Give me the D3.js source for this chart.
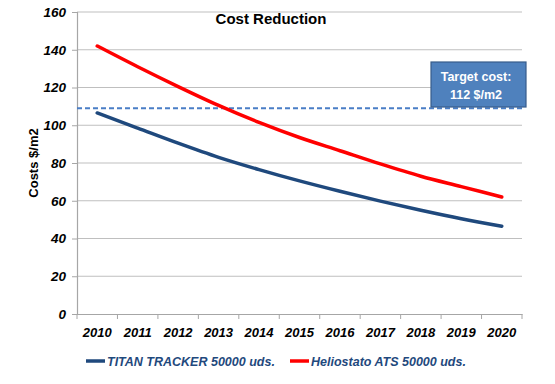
<!DOCTYPE html>
<html>
<head>
<meta charset="utf-8">
<script src="https://cdn.jsdelivr.net/npm/d3@7"></script>
<style>
  body { margin: 0; background: white; }
  text { font-family: "Liberation Sans", Arial, sans-serif; }
</style>
</head>
<body>
<svg width="555" height="384"></svg>
<script>
let svg = d3.select("svg");

// donnees
let annees = ["2010", "2011", "2012", "2013", "2014", "2015", "2016", "2017", "2018", "2019", "2020"];
let titan = [106.5, 98.5, 90.5, 83, 76.5, 70.5, 65, 59.8, 55, 50.5, 46.5];
let helio = [142, 131, 120.5, 110.5, 101.5, 93.5, 86.5, 79.5, 73, 67.5, 62];
let cible = 109;
let ticksY = [0, 20, 40, 60, 80, 100, 120, 140, 160];
let series = [
    { nom: "TITAN TRACKER 50000 uds.", valeurs: titan, couleur: "#1F497D" },
    { nom: "Heliostato ATS 50000 uds.", valeurs: helio, couleur: "#FF0000" }
];

let x = d3.scaleBand().domain(annees).range([77, 522]);
let y = d3.scaleLinear().domain([0, 160]).range([314, 12]);

// grille horizontale
svg.append("g")
    .selectAll("line")
    .data(ticksY.filter(d => d > 0))
    .enter()
    .append("line")
    .attr("x1", 77)
    .attr("x2", 522)
    .attr("y1", d => y(d))
    .attr("y2", d => y(d))
    .style("stroke", "#BFBFBF")
    .style("stroke-width", 1.2);

// axe Y
let axeY = svg.append("g")
    .attr("transform", "translate(77,0)")
    .call(d3.axisLeft(y).tickValues(ticksY).tickSize(5).tickPadding(6));
axeY.select(".domain").style("stroke", "#A6A6A6").style("stroke-width", 1.2);
axeY.selectAll(".tick line").style("stroke", "#A6A6A6");
axeY.selectAll(".tick text")
    .style("font-size", "13.5px")
    .style("font-weight", "bold")
    .style("font-style", "italic")
    .style("fill", "#000");

// axe X avec graduations entre les annees
let axeX = svg.append("g")
    .attr("transform", "translate(0,314)")
    .call(d3.axisBottom(x).tickSize(0).tickPadding(14));
axeX.select(".domain").style("stroke", "#A6A6A6").style("stroke-width", 1.2);
axeX.selectAll(".tick text")
    .style("font-size", "13px")
    .style("font-weight", "bold")
    .style("font-style", "italic")
    .style("fill", "#000");
let bornes = annees.map(d => x(d)).concat([x.range()[1]]);
axeX.selectAll("line.grad")
    .data(bornes)
    .enter()
    .append("line")
    .attr("class", "grad")
    .attr("x1", d => d)
    .attr("x2", d => d)
    .attr("y1", 0)
    .attr("y2", 5)
    .style("stroke", "#A6A6A6");

// ligne cible en pointilles
svg.append("line")
    .attr("x1", 77)
    .attr("x2", 524)
    .attr("y1", y(cible))
    .attr("y2", y(cible))
    .style("stroke", "#4A7EC6")
    .style("stroke-width", 2)
    .style("stroke-dasharray", "5,3");

// courbes
let ligne = d3.line()
    .x((d, i) => x(annees[i]) + x.bandwidth() / 2)
    .y(d => y(d))
    .curve(d3.curveMonotoneX);

svg.append("g")
    .selectAll("path")
    .data(series)
    .enter()
    .append("path")
    .attr("d", d => ligne(d.valeurs))
    .style("fill", "none")
    .style("stroke", d => d.couleur)
    .style("stroke-width", 3.5)
    .style("stroke-linecap", "round");

// boite "Target cost"
svg.append("rect")
    .attr("x", 431)
    .attr("y", 62)
    .attr("width", 95)
    .attr("height", 45)
    .style("fill", "#4F81BD")
    .style("stroke", "#385D8A")
    .style("stroke-width", 1.2);
svg.append("text")
    .attr("x", 476)
    .attr("y", 81)
    .attr("text-anchor", "middle")
    .style("font-size", "12.5px")
    .style("font-weight", "bold")
    .style("fill", "white")
    .text("Target cost:");
svg.append("text")
    .attr("x", 476)
    .attr("y", 99)
    .attr("text-anchor", "middle")
    .style("font-size", "12.5px")
    .style("font-weight", "bold")
    .style("fill", "white")
    .text("112 $/m2");

// titre
svg.append("text")
    .attr("x", 271)
    .attr("y", 24)
    .attr("text-anchor", "middle")
    .style("font-size", "15px")
    .style("font-weight", "bold")
    .text("Cost Reduction");

// titre axe Y
svg.append("text")
    .attr("transform", "translate(38,163) rotate(-90)")
    .attr("text-anchor", "middle")
    .style("font-size", "13px")
    .style("font-weight", "bold")
    .text("Costs $/m2");

// legende
let legende = svg.append("g")
    .selectAll("g")
    .data(series)
    .enter()
    .append("g")
    .attr("transform", (d, i) => "translate(" + [86, 290][i] + ",361)");
legende.append("line")
    .attr("x1", 0)
    .attr("x2", 19)
    .style("stroke", d => d.couleur)
    .style("stroke-width", 3.5);
legende.append("text")
    .attr("x", 21)
    .attr("y", 4.5)
    .style("font-size", "12.5px")
    .style("font-weight", "bold")
    .style("font-style", "italic")
    .style("fill", "#1F497D")
    .text(d => d.nom);
</script>
</body>
</html>
